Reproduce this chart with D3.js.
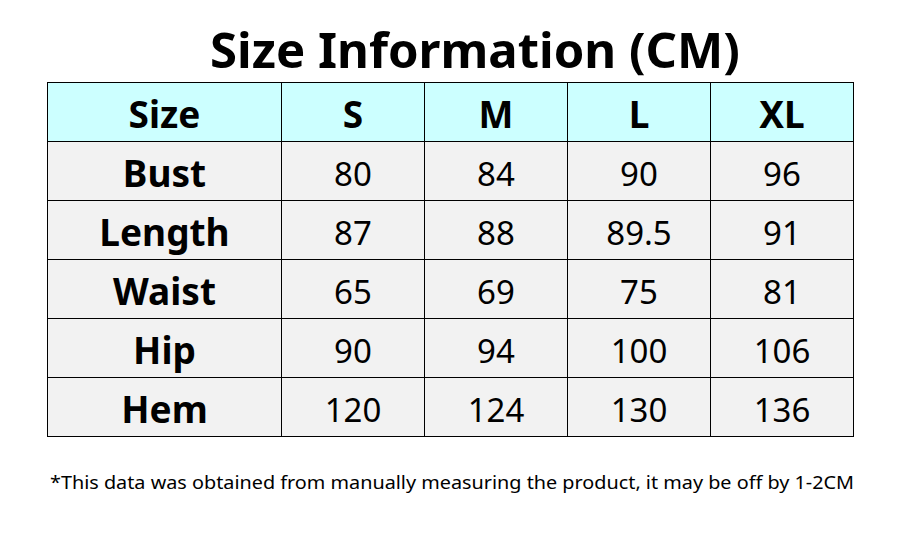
<!DOCTYPE html>
<html>
<head>
<meta charset="utf-8">
<script src="https://cdn.jsdelivr.net/npm/d3@7"></script>
<style>
  body { margin: 0; background: #fff; }
  text { font-family: 'Noto Sans', 'Open Sans', sans-serif; fill: #000; }
</style>
</head>
<body>
<div id="chart"></div>
<script>
const title = 'Size Information (CM)';
const sizes = ['S', 'M', 'L', 'XL'];
const measures = ['Bust', 'Length', 'Waist', 'Hip', 'Hem'];
const bust = ['80', '84', '90', '96'];
const length = ['87', '88', '89.5', '91'];
const waist = ['65', '69', '75', '81'];
const hip = ['90', '94', '100', '106'];
const hem = ['120', '124', '130', '136'];
const note = '*This data was obtained from manually measuring the product, it may be off by 1-2CM';

const values = [bust, length, waist, hip, hem];
const columns = ['Size', ...sizes];
const rows = ['header', ...measures];

const width = 904;
const height = 541;

const svg = d3
  .select('#chart')
  .append('svg')
  .attr('width', width)
  .attr('height', height);

// first column is wider than the size columns
const xEdges = [47.5, 281.5, 424.5, 567.5, 710.5, 853.5];
const x = d3.scaleOrdinal().domain(columns).range(xEdges.slice(0, -1));
const colWidth = (c) => xEdges[columns.indexOf(c) + 1] - x(c);

const y = d3
  .scaleBand()
  .domain(rows)
  .range([82.5, 436.5])
  .padding(0);

svg
  .append('text')
  .attr('x', 475)
  .attr('y', 68)
  .attr('text-anchor', 'middle')
  .attr('font-size', 49)
  .attr('font-weight', 'bold')
  .attr('textLength', 530)
  .attr('lengthAdjust', 'spacingAndGlyphs')
  .text(title);

let cells = [];
rows.forEach((r, i) => {
  columns.forEach((c, j) => {
    let label;
    if (i === 0) label = c;
    else if (j === 0) label = measures[i - 1];
    else label = values[i - 1][j - 1];
    cells.push({ row: r, col: c, label, bold: i === 0 || j === 0 });
  });
});

const cell = svg
  .append('g')
  .selectAll('g')
  .data(cells)
  .join('g');

cell
  .append('rect')
  .attr('x', (d) => x(d.col))
  .attr('y', (d) => y(d.row))
  .attr('width', (d) => colWidth(d.col))
  .attr('height', y.bandwidth())
  .attr('fill', (d) => (d.row === 'header' ? '#ccffff' : '#f2f2f2'))
  .attr('stroke', '#000')
  .attr('stroke-width', 1);

cell
  .append('text')
  .attr('x', (d) => x(d.col) + colWidth(d.col) / 2)
  .attr('y', (d) => y(d.row) + y.bandwidth() / 2)
  .attr('dy', '0.44em')
  .attr('text-anchor', 'middle')
  .attr('font-size', (d) => (d.bold ? 37 : 33))
  .attr('font-weight', (d) => (d.bold ? 'bold' : 'normal'))
  .text((d) => d.label);

svg
  .append('text')
  .attr('x', 452)
  .attr('y', 489)
  .attr('text-anchor', 'middle')
  .attr('font-size', 18)
  .attr('textLength', 804)
  .attr('lengthAdjust', 'spacingAndGlyphs')
  .text(note);
</script>
</body>
</html>
